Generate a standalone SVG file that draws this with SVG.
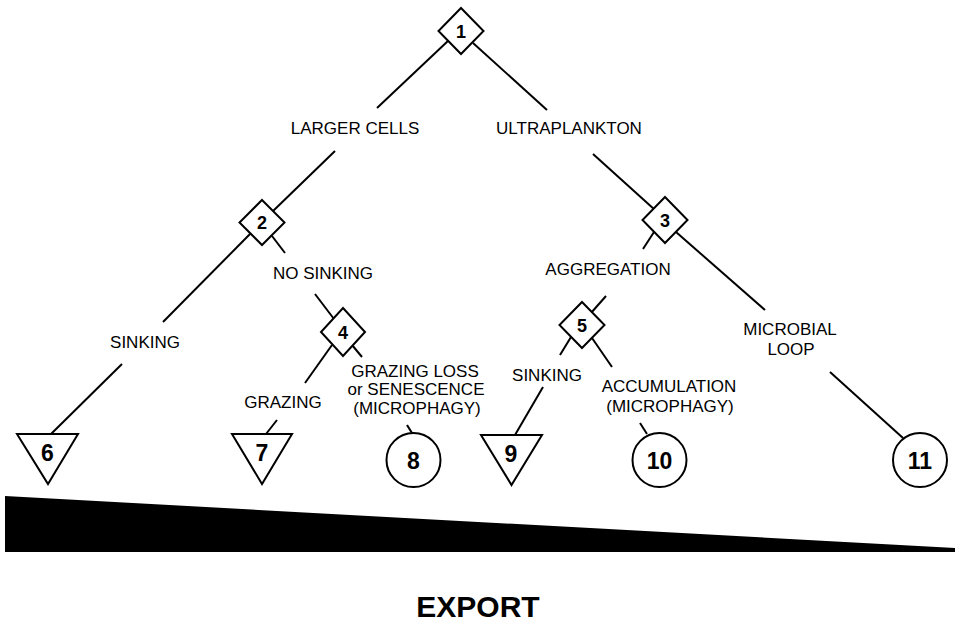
<svg xmlns="http://www.w3.org/2000/svg" width="955" height="636" viewBox="0 0 955 636">
<style>
.edge{stroke:#000;stroke-width:2;fill:none;stroke-linecap:butt}
.node{fill:#fff;stroke:#000;stroke-width:2}
.lbl{font-family:"Liberation Sans",Arial,sans-serif;font-size:17px;fill:#000;text-anchor:middle}
.dnum{font-family:"Liberation Sans",Arial,sans-serif;font-size:18px;font-weight:bold;fill:#000;text-anchor:middle}
.num{font-family:"Liberation Sans",Arial,sans-serif;font-size:23px;font-weight:bold;fill:#000;text-anchor:middle}
.big{font-family:"Liberation Sans",Arial,sans-serif;font-size:30px;font-weight:bold;fill:#000;text-anchor:middle}
</style>
<rect width="955" height="636" fill="#fff"/>
<g id="connectors">
<line class="edge" x1="449" y1="40" x2="377" y2="108"/>
<line class="edge" x1="473" y1="43" x2="547" y2="110"/>
<line class="edge" x1="335" y1="151" x2="272" y2="212"/>
<line class="edge" x1="593" y1="154" x2="655" y2="210"/>
<line class="edge" x1="251" y1="233" x2="163" y2="322"/>
<line class="edge" x1="122" y1="364" x2="51" y2="434"/>
<line class="edge" x1="272" y1="236" x2="285" y2="253"/>
<line class="edge" x1="315" y1="294" x2="334" y2="319"/>
<line class="edge" x1="332" y1="345" x2="305" y2="383"/>
<line class="edge" x1="277" y1="420" x2="266" y2="434"/>
<line class="edge" x1="352" y1="345" x2="362" y2="357"/>
<line class="edge" x1="407" y1="425" x2="412" y2="433"/>
<line class="edge" x1="654" y1="232" x2="643" y2="249"/>
<line class="edge" x1="676" y1="232" x2="765" y2="310"/>
<line class="edge" x1="606" y1="296" x2="591" y2="313"/>
<line class="edge" x1="571" y1="337" x2="560" y2="355"/>
<line class="edge" x1="543" y1="387" x2="515" y2="435"/>
<line class="edge" x1="592" y1="338" x2="612" y2="367"/>
<line class="edge" x1="640" y1="423" x2="647" y2="434"/>
<line class="edge" x1="830" y1="372" x2="903" y2="438"/>
</g>
<g id="n1"><polygon class="node" points="461,8 483.5,31 461,54 438.5,31"/><text class="dnum" x="461" y="37.5">1</text></g>
<g id="n2"><polygon class="node" points="262,200 284.5,222.5 262,245 239.5,222.5"/><text class="dnum" x="262" y="229">2</text></g>
<g id="n3"><polygon class="node" points="665,197 687.5,220 665,243 642.5,220"/><text class="dnum" x="665" y="226.5">3</text></g>
<g id="n4"><polygon class="node" points="343,308 365,332 343,356 321,332"/><text class="dnum" x="343" y="338.5">4</text></g>
<g id="n5"><polygon class="node" points="582,302 604.5,325 582,348 559.5,325"/><text class="dnum" x="582" y="331.5">5</text></g>
<g id="n6"><polygon class="node" points="17,434 78,434 48,484"/><text class="num" x="47.5" y="460.5">6</text></g>
<g id="n7"><polygon class="node" points="232,434 292,434 262,484"/><text class="num" x="262" y="461">7</text></g>
<g id="n8"><circle class="node" cx="413.5" cy="460" r="27"/><text class="num" x="413.5" y="469">8</text></g>
<g id="n9"><polygon class="node" points="481,435 542,435 511.5,485"/><text class="num" x="511" y="461.5">9</text></g>
<g id="n10"><circle class="node" cx="659.5" cy="460" r="27"/><text class="num" x="659.5" y="469">10</text></g>
<g id="n11"><circle class="node" cx="920" cy="460" r="27"/><text class="num" x="920" y="469">11</text></g>
<g id="labels">
<text class="lbl" x="355" y="134">LARGER CELLS</text>
<text class="lbl" x="569" y="134">ULTRAPLANKTON</text>
<text class="lbl" x="145" y="348">SINKING</text>
<text class="lbl" x="323" y="279">NO SINKING</text>
<text class="lbl" x="283" y="408">GRAZING</text>
<text class="lbl" x="415" y="377">GRAZING LOSS</text>
<text class="lbl" x="416" y="395">or SENESCENCE</text>
<text class="lbl" x="417" y="414">(MICROPHAGY)</text>
<text class="lbl" x="608" y="275">AGGREGATION</text>
<text class="lbl" x="547" y="381">SINKING</text>
<text class="lbl" x="669" y="392">ACCUMULATION</text>
<text class="lbl" x="670" y="412">(MICROPHAGY)</text>
<text class="lbl" x="790" y="335">MICROBIAL</text>
<text class="lbl" x="791" y="355">LOOP</text>
</g>
<polygon id="wedge" points="5,496 955,548 955,552 5,552" fill="#000"/>
<text class="big" x="478" y="617">EXPORT</text>
</svg>
